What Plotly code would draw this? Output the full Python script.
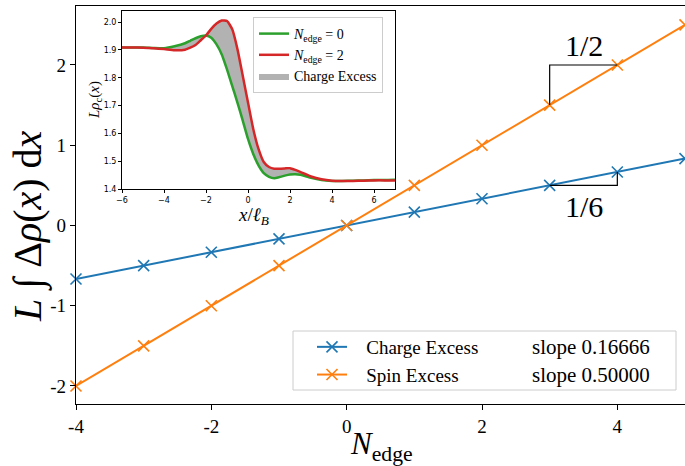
import plotly.graph_objects as go

# ---- main data ----
n_edge = [-4, -3, -2, -1, 0, 1, 2, 3, 4, 5]
charge_excess = [-0.6667, -0.5, -0.3333, -0.1667, 0.0, 0.1667, 0.3333, 0.5, 0.6667, 0.8333]
spin_excess = [-2.0, -1.5, -1.0, -0.5, 0.0, 0.5, 1.0, 1.5, 2.0, 2.5]
charge_label = "Charge Excess"
spin_label = "Spin Excess"
charge_slope = "slope 0.16666"
spin_slope = "slope 0.50000"

# ---- inset data ----
x_inset = [-6, -5.5, -5, -4.5, -4, -3.5, -3, -2.75, -2.5, -2.25, -2, -1.75, -1.5, -1.25,
           -1, -0.75, -0.5, -0.25, 0, 0.25, 0.5, 0.75, 1, 1.25, 1.5, 1.75, 2, 2.25, 2.5,
           2.75, 3, 3.5, 4, 4.5, 5, 5.5, 6, 6.5, 7]
rho_n0 = [1.909, 1.909, 1.909, 1.907, 1.906, 1.913, 1.924, 1.933, 1.942, 1.949, 1.952, 1.944,
          1.92, 1.884, 1.83, 1.77, 1.71, 1.646, 1.58, 1.526, 1.485, 1.457, 1.444, 1.439, 1.443,
          1.448, 1.452, 1.453, 1.451, 1.446, 1.44, 1.432, 1.429, 1.429, 1.430, 1.431, 1.432,
          1.432, 1.433]
rho_n2 = [1.909, 1.909, 1.908, 1.906, 1.903, 1.899, 1.901, 1.908, 1.918, 1.935, 1.952, 1.976,
          1.995, 2.006, 2.004, 1.974, 1.902, 1.807, 1.711, 1.616, 1.544, 1.497, 1.479, 1.473,
          1.473, 1.474, 1.475, 1.469, 1.461, 1.453, 1.445, 1.435, 1.430, 1.429, 1.429, 1.430,
          1.431, 1.431, 1.431]

BLUE = "#1f77b4"
ORANGE = "#ff7f0e"
GREEN = "#2ca02c"
RED = "#d62728"
SERIF = "Liberation Serif"
SANS = "DejaVu Sans"
PAD = "&nbsp;&nbsp;&nbsp;"

fig = go.Figure()

# main series
fig.add_trace(go.Scatter(x=n_edge, y=charge_excess, mode="lines+markers", name=PAD + charge_label,
                         line=dict(color=BLUE, width=2),
                         marker=dict(symbol="x-thin", size=11, line=dict(color=BLUE, width=1.6)),
                         cliponaxis=False, legend="legend"))
fig.add_trace(go.Scatter(x=n_edge, y=spin_excess, mode="lines+markers", name=PAD + spin_label,
                         line=dict(color=ORANGE, width=2),
                         marker=dict(symbol="x-thin", size=11, line=dict(color=ORANGE, width=1.6)),
                         cliponaxis=False, legend="legend"))

# slope triangles built from the data points at N=3 and N=4
i3, i4 = n_edge.index(3), n_edge.index(4)
fig.add_trace(go.Scatter(x=[n_edge[i3], n_edge[i3], n_edge[i4]],
                         y=[spin_excess[i3], spin_excess[i4], spin_excess[i4]],
                         mode="lines", line=dict(color="black", width=1.2),
                         showlegend=False, hoverinfo="skip"))
fig.add_trace(go.Scatter(x=[n_edge[i3], n_edge[i4], n_edge[i4]],
                         y=[charge_excess[i3], charge_excess[i3], charge_excess[i4]],
                         mode="lines", line=dict(color="black", width=1.2),
                         showlegend=False, hoverinfo="skip"))

# inset traces
fig.add_trace(go.Scatter(x=x_inset, y=rho_n0, xaxis="x2", yaxis="y2", mode="lines",
                         line=dict(width=0, shape="spline", smoothing=0.5, color=GREEN),
                         showlegend=False, hoverinfo="skip"))
fig.add_trace(go.Scatter(x=x_inset, y=rho_n2, xaxis="x2", yaxis="y2", mode="lines",
                         line=dict(width=0, shape="spline", smoothing=0.5, color="rgba(150,150,150,1)"),
                         fill="tonexty", fillcolor="rgba(165,165,165,0.85)",
                         name="Charge Excess", legend="legend2", legendrank=3))
fig.add_trace(go.Scatter(x=x_inset, y=rho_n0, xaxis="x2", yaxis="y2", mode="lines",
                         line=dict(width=2.5, shape="spline", smoothing=0.5, color=GREEN),
                         name="<i>N</i><sub>edge</sub> = 0", legend="legend2", legendrank=1))
fig.add_trace(go.Scatter(x=x_inset, y=rho_n2, xaxis="x2", yaxis="y2", mode="lines",
                         line=dict(width=2.5, shape="spline", smoothing=0.5, color=RED),
                         name="<i>N</i><sub>edge</sub> = 2", legend="legend2", legendrank=2))

W, H = 685, 466
L, R, T, B = 76, 0, 6, 62
PW, PH = W - L - R, H - T - B


def px_x(p):
    return (p - L) / PW


def px_y(p):
    return (H - B - p) / PH


ins_x0, ins_x1, ins_y0, ins_y1 = 122, 395, 11, 189

fig.update_layout(
    width=W, height=H,
    margin=dict(l=L, r=R, t=T, b=B, autoexpand=False),
    paper_bgcolor="white", plot_bgcolor="white",
    font=dict(family=SERIF, color="black", size=18),
    xaxis=dict(range=[-4, 5], tickvals=[-4, -2, 0, 2, 4], ticktext=["-4", "-2", "0", "2", "4"],
               showgrid=False, zeroline=False, showline=True, linecolor="black", linewidth=1.2,
               mirror=True, ticks="outside", ticklen=5, tickwidth=1.2, tickcolor="black",
               tickfont=dict(family=SERIF, size=19), automargin=False),
    yaxis=dict(range=[-2.225, 2.735], tickvals=[-2, -1, 0, 1, 2], ticktext=["-2", "-1", "0", "1", "2"],
               showgrid=False, zeroline=False, showline=True, linecolor="black", linewidth=1.2,
               mirror=False, ticks="outside", ticklen=5, tickwidth=1.2, tickcolor="black",
               tickfont=dict(family=SERIF, size=19), automargin=False),
    xaxis2=dict(domain=[px_x(ins_x0), px_x(ins_x1)], anchor="y2", range=[-6, 7],
                tickvals=[-6, -4, -2, 0, 2, 4, 6], showgrid=False, zeroline=False,
                showline=True, linecolor="black", linewidth=1, mirror=True,
                ticks="outside", ticklen=3, tickwidth=1, tickcolor="black",
                tickfont=dict(family=SANS, size=8), automargin=False),
    yaxis2=dict(domain=[px_y(ins_y1), px_y(ins_y0)], anchor="x2", range=[1.4, 2.04],
                tickvals=[1.4, 1.5, 1.6, 1.7, 1.8, 1.9, 2.0], tickformat=".1f",
                showgrid=False, zeroline=False,
                showline=True, linecolor="black", linewidth=1, mirror=True,
                ticks="outside", ticklen=3, tickwidth=1, tickcolor="black",
                tickfont=dict(family=SANS, size=8), automargin=False),
    legend=dict(x=px_x(312), y=px_y(328), xanchor="left", yanchor="top",
                bgcolor="rgba(0,0,0,0)", borderwidth=0, itemwidth=30, traceorder="normal",
                font=dict(family=SERIF, size=19), tracegroupgap=0),
    legend2=dict(x=px_x(253), y=px_y(17), xanchor="left", yanchor="top",
                 bgcolor="rgba(255,255,255,0.85)", bordercolor="#cccccc", borderwidth=1,
                 itemwidth=30, traceorder="normal", font=dict(family=SERIF, size=14),
                 tracegroupgap=0),
    shapes=[
        # white background of the inset, drawn within the inset's own layer
        dict(type="rect", xref="x2 domain", yref="y2 domain", x0=0, x1=1, y0=0, y1=1,
             fillcolor="white", line=dict(width=0), layer="below"),
        # main legend frame
        dict(type="rect", xref="paper", yref="paper", x0=px_x(293), x1=px_x(676),
             y0=px_y(390), y1=px_y(331), fillcolor="rgba(255,255,255,0.8)",
             line=dict(color="#cccccc", width=1), layer="above"),
    ],
    annotations=[
        dict(text="<i>N</i><sub>edge</sub>", xref="paper", yref="paper",
             x=px_x(381), y=px_y(446), showarrow=False,
             font=dict(family=SERIF, size=31), xanchor="center", yanchor="middle"),
        dict(text="<i>L</i> ∫ Δ<i>ρ</i>(<i>x</i>) d<i>x</i>", xref="paper", yref="paper",
             x=px_x(29), y=px_y(226), textangle=-90, showarrow=False,
             font=dict(family=SERIF, size=40), xanchor="center", yanchor="middle"),
        dict(text="<i>Lρ</i><sub>c</sub>(<i>x</i>)", xref="paper", yref="paper",
             x=px_x(95), y=px_y(100), textangle=-90, showarrow=False,
             font=dict(family=SERIF, size=15), xanchor="center", yanchor="middle"),
        dict(text="<i>x</i>/<i>ℓ</i><sub><i>B</i></sub>", xref="paper", yref="paper",
             x=px_x(253), y=px_y(216), showarrow=False,
             font=dict(family=SERIF, size=19), xanchor="center", yanchor="middle"),
        dict(text="1/2", x=3.5, y=2.24, xref="x", yref="y", showarrow=False,
             font=dict(family=SERIF, size=30), xanchor="center", yanchor="middle"),
        dict(text="1/6", x=3.5, y=0.24, xref="x", yref="y", showarrow=False,
             font=dict(family=SERIF, size=30), xanchor="center", yanchor="middle"),
        dict(text=charge_slope, xref="paper", yref="paper", x=px_x(530), y=px_y(347),
             showarrow=False, font=dict(family=SERIF, size=21), xanchor="left", yanchor="middle"),
        dict(text=spin_slope, xref="paper", yref="paper", x=px_x(530), y=px_y(375),
             showarrow=False, font=dict(family=SERIF, size=21), xanchor="left", yanchor="middle"),
    ],
)

fig.write_html("out.html", config={"displayModeBar": False},
               post_script="document.body.style.margin='0';document.body.style.overflow='hidden';")
